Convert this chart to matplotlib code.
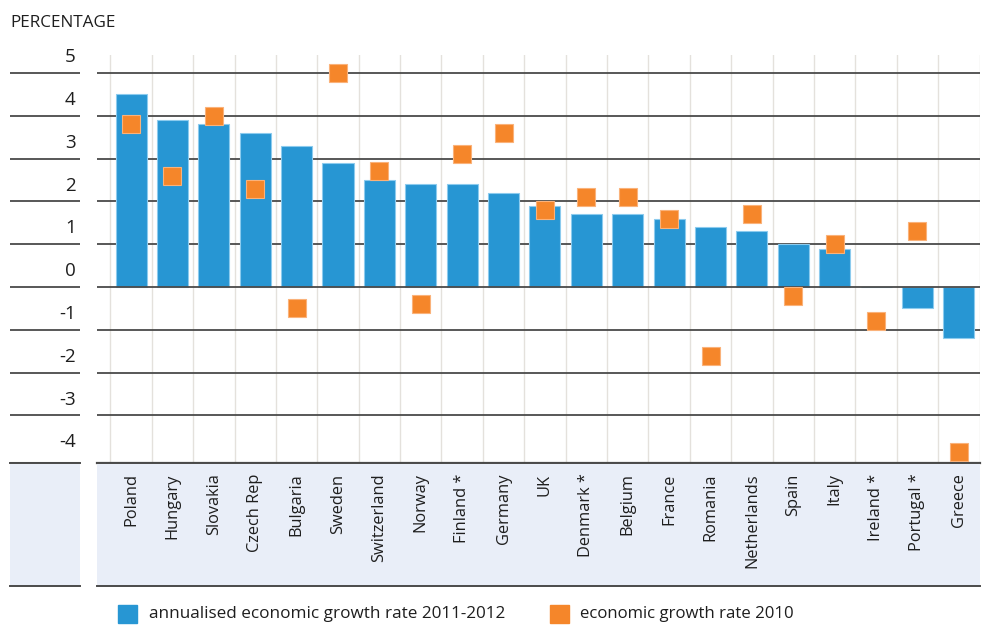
import matplotlib
matplotlib.use("Agg")
import matplotlib.pyplot as plt
from matplotlib.patches import Rectangle

countries = ["Poland", "Hungary", "Slovakia", "Czech Rep", "Bulgaria", "Sweden",
             "Switzerland", "Norway", "Finland *", "Germany", "UK", "Denmark *",
             "Belgium", "France", "Romania", "Netherlands", "Spain", "Italy",
             "Ireland *", "Portugal *", "Greece"]
growth_2011_2012 = [4.5, 3.9, 3.8, 3.6, 3.3, 2.9, 2.5, 2.4, 2.4, 2.2, 1.9, 1.7,
                    1.7, 1.6, 1.4, 1.3, 1.0, 0.9, 0.0, -0.5, -1.2]
growth_2010 = [3.8, 2.6, 4.0, 2.3, -0.5, 5.0, 2.7, -0.4, 3.1, 3.6, 1.8, 2.1,
               2.1, 1.6, -1.6, 1.7, -0.2, 1.0, -0.8, 1.3, -3.85]
y_ticks = [5, 4, 3, 2, 1, 0, -1, -2, -3, -4]

BLUE = "#2796d3"
ORANGE = "#f5862a"
GRID = "#4a4a4a"
PANEL = "#e9eef8"
TXT = "#1e1e1e"
plt.rcParams["font.family"] = ["Open Sans", "DejaVu Sans"]

W, H = 982, 625
fig = plt.figure(figsize=(W / 100, H / 100), dpi=100)

def box(x0, y0, x1, y1):
    # pixel box (top-left origin) -> figure fraction rect
    return [x0 / W, 1 - y1 / H, (x1 - x0) / W, (y1 - y0) / H]

ylim = (-4.11, 5.42)
xlim = (-0.823, 20.51)
n = len(countries)
xs = list(range(n))

# main plot
ax = fig.add_axes(box(97, 55, 980, 463))
ax.set_xlim(*xlim)
ax.set_ylim(*ylim)
for v in y_ticks[:-1]:
    ax.axhline(v, color=GRID, lw=1.3, zorder=2.5 if v == 0 else 1)
for i in range(-1, n):
    ax.axvline(i + 0.5, color="#e4e1dc", lw=1.0, zorder=0)
ax.bar(xs, growth_2011_2012, width=0.75, color=BLUE, edgecolor="#8ccbee",
       linewidth=0.8, zorder=2)
ax.plot(xs, growth_2010, ls="none", marker="s", markersize=13.5,
        color=ORANGE, markeredgecolor="#fab27a", markeredgewidth=0.8, zorder=3)
for s in ["top", "right", "left"]:
    ax.spines[s].set_visible(False)
ax.spines["bottom"].set_color(GRID)
ax.spines["bottom"].set_linewidth(1.6)
ax.set_xticks([])
ax.set_yticks([])

# left tick label column
axl = fig.add_axes(box(10, 55, 80, 463))
axl.set_xlim(0, 1)
axl.set_ylim(*ylim)
axl.axis("off")
for v in y_ticks[:-1]:
    axl.axhline(v, color=GRID, lw=1.3)
axl.axhline(ylim[0], color=GRID, lw=2.2)
for v in y_ticks:
    axl.text(0.94, v + 0.37, str(v), ha="right", va="center", fontsize=13.5,
             color=TXT)

# category label panel
axc = fig.add_axes(box(97, 463, 980, 586))
axc.set_facecolor(PANEL)
axc.set_xlim(*xlim)
axc.set_ylim(0, 1)
axc.set_xticks([])
axc.set_yticks([])
for s in ["left", "right"]:
    axc.spines[s].set_visible(False)
for s in ["top", "bottom"]:
    axc.spines[s].set_color(GRID)
    axc.spines[s].set_linewidth(1.4)
for x, name in zip(xs, countries):
    axc.text(x, 0.915, name, rotation=90, ha="center", va="top", fontsize=11.8,
             color=TXT)

axc2 = fig.add_axes(box(10, 463, 80, 586))
axc2.set_facecolor(PANEL)
axc2.set_xticks([])
axc2.set_yticks([])
for s in ["left", "right"]:
    axc2.spines[s].set_visible(False)
for s in ["top", "bottom"]:
    axc2.spines[s].set_color(GRID)
    axc2.spines[s].set_linewidth(1.4)

fig.text(10 / W, 1 - 23 / H, "PERCENTAGE", ha="left", va="center",
         fontsize=12.3, color=TXT)

# legend
fig.add_artist(Rectangle((118 / W, 1 - 623 / H), 19 / W, 18 / H,
                         transform=fig.transFigure, color=BLUE))
fig.text(149 / W, 1 - 614 / H, "annualised economic growth rate 2011-2012",
         ha="left", va="center", fontsize=12.3, color=TXT)
fig.add_artist(Rectangle((550 / W, 1 - 623 / H), 19 / W, 18 / H,
                         transform=fig.transFigure, color=ORANGE))
fig.text(580 / W, 1 - 614 / H, "economic growth rate 2010",
         ha="left", va="center", fontsize=12.1, color=TXT)

fig.savefig("out.png", dpi=100)
